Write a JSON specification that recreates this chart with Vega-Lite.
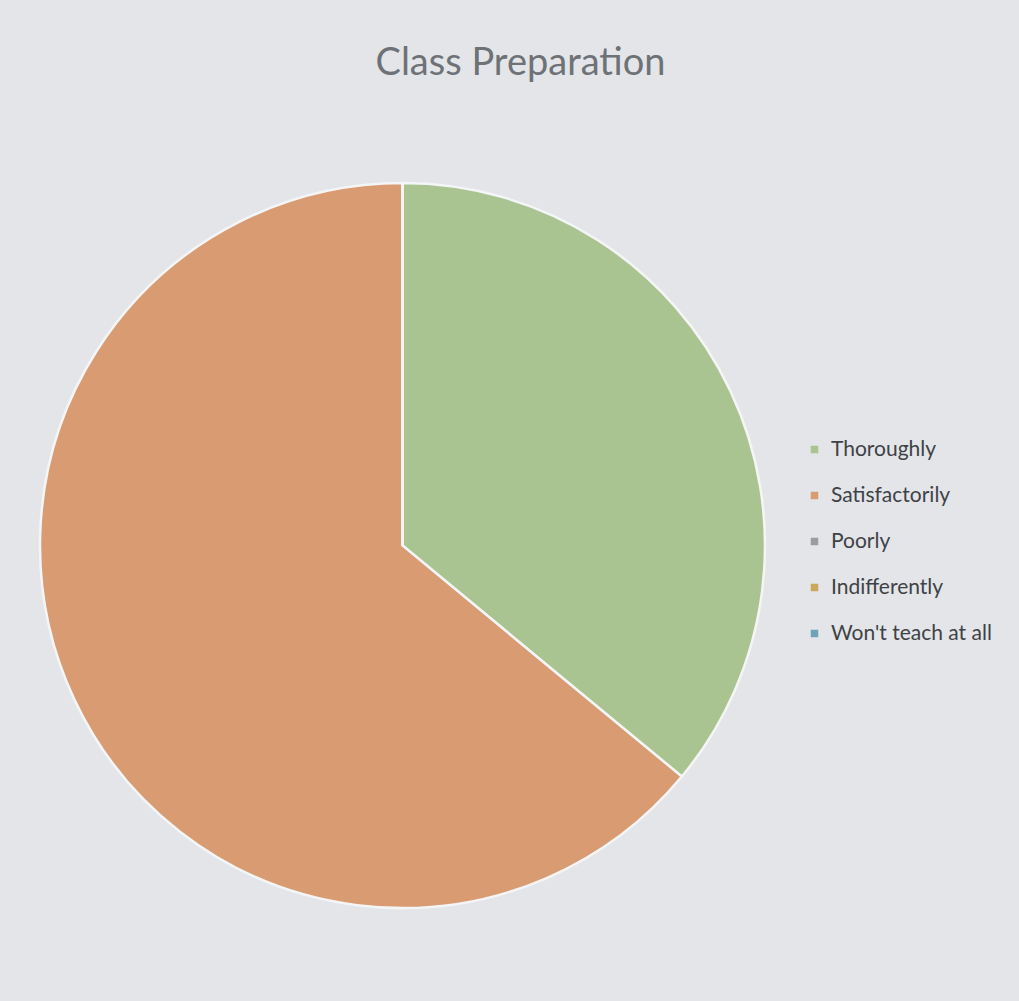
{
  "$schema": "https://vega.github.io/schema/vega-lite/v6.json",
  "width": 725,
  "height": 725,
  "autosize": {"type": "none"},
  "padding": {"left": 40, "top": 183, "right": 254, "bottom": 93},
  "background": "#e3e5e8",
  "config": {"view": {"stroke": null}},
  "title": {
    "text": "Class Preparation",
    "font": "Lato",
    "fontSize": 38,
    "fontWeight": "normal",
    "color": "#6e7276",
    "anchor": "middle",
    "dx": 118,
    "offset": 95
  },
  "data": {
    "values": [
      {"answer": "Thoroughly", "count": 9, "rank": 1},
      {"answer": "Satisfactorily", "count": 16, "rank": 2},
      {"answer": "Poorly", "count": 0, "rank": 3},
      {"answer": "Indifferently", "count": 0, "rank": 4},
      {"answer": "Won't teach at all", "count": 0, "rank": 5}
    ]
  },
  "mark": {"type": "arc", "stroke": "#f4f5f6", "strokeWidth": 2.5},
  "encoding": {
    "theta": {"field": "count", "type": "quantitative", "stack": true},
    "order": {"field": "rank", "type": "quantitative"},
    "color": {
      "field": "answer",
      "type": "nominal",
      "sort": ["Thoroughly", "Satisfactorily", "Poorly", "Indifferently", "Won't teach at all"],
      "scale": {
        "domain": ["Thoroughly", "Satisfactorily", "Poorly", "Indifferently", "Won't teach at all"],
        "range": ["#aac491", "#d89b72", "#9a9c9e", "#cba65c", "#6ea3b8"]
      },
      "legend": {
        "title": null,
        "orient": "none",
        "legendX": 764,
        "legendY": 256,
        "symbolType": "square",
        "symbolSize": 56,
        "symbolStrokeWidth": 0,
        "labelFont": "Lato",
        "labelFontSize": 21,
        "labelColor": "#3e4246",
        "labelOffset": 6,
        "labelLimit": 400,
        "rowPadding": 24
      }
    }
  }
}
